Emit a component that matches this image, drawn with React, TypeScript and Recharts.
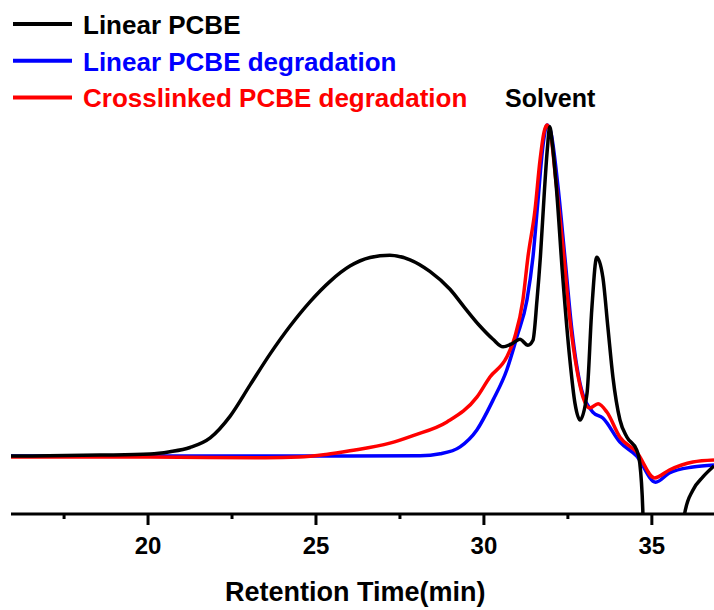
import { LineChart, Line, XAxis, YAxis } from 'recharts';

const FONT = '"Liberation Sans", Arial, Helvetica, sans-serif';

// retention time (min) / signal (a.u., baseline 0, main peak 100)
const linearTime = [
  15.92, 18.57, 20.06, 20.65, 21.25, 21.85, 22.44, 23.04, 23.63, 24.23, 24.82, 25.42, 26.01, 26.61,
  27.2, 27.8, 28.39, 28.99, 29.43, 29.88, 30.27, 30.57, 30.86, 31.07, 31.31, 31.46, 31.58, 31.68,
  31.8, 31.89, 31.96, 32.04, 32.15, 32.34, 32.56, 32.71, 32.86, 33.07, 33.21, 33.36, 33.54, 33.69,
  33.84, 34.05, 34.26, 34.55, 34.64, 34.73, 34.78, 35.3, 35.85, 35.98, 36.22, 36.52, 36.85,
];
const linearSignal = [
  0, 0.3, 0.6, 1.3, 2.6, 5.5, 12.0, 21.5, 30.8, 39.3, 46.6, 52.8, 57.4, 60.0,
  60.7, 59.3, 55.8, 50.4, 44.8, 39.3, 35.3, 33.0, 34.1, 35.3, 33.5, 35.0, 47.1, 60,
  80, 93, 99.5, 94, 82, 55, 29.0, 16.0, 10.9, 19.0, 44.1, 60.1, 54.1, 39.0,
  23.9, 10.9, 5.7, 1.8, -2.1, -16.3, -35, -60, -35, -17.2, -10.3, -6.3, -3.0,
];

const linearDegTime = [
  15.92, 22, 26, 28.1, 28.7, 29.29, 29.79, 30.27, 30.68, 30.98, 31.28, 31.46, 31.61, 31.76, 31.88,
  31.99, 32.2, 32.41, 32.62, 32.86, 33.24, 33.54, 34.05, 34.55, 35.11, 35.52, 36.22, 36.85,
];
const linearDegSignal = [
  0, 0, 0, 0.1, 0.7, 2.8, 7.9, 16.9, 26, 36, 47.1, 60.1, 77.3, 94, 100,
  97.9, 81.9, 60.1, 38, 22, 13.3, 11.5, 4.2, 0, -7.9, -5.1, -3.3, -2.7,
];

const crossDegTime = [
  15.92, 20.06, 23.5, 24.5, 25.3, 26.01, 27.2, 27.89, 28.9, 29.79, 30.18, 30.68, 30.92, 31.16, 31.31,
  31.52, 31.67, 31.79, 31.88, 31.99, 32.14, 32.35, 32.56, 32.77, 32.95, 33.15, 33.4, 33.66, 34.05,
  34.55, 35.08, 35.52, 36.22, 36.85,
];
const crossDegSignal = [
  -0.3, -0.3, -0.5, -0.3, 0.5, 1.6, 3.9, 6.2, 10.3, 17.8, 23.9, 29.9, 36.0, 47.1, 60.1,
  74.3, 89.4, 97.9, 100, 97, 83.4, 63.7, 41.1, 26, 17.8, 14.5, 15.8, 13.3, 5.7,
  1.2, -6.6, -4.2, -1.8, -1.2,
];

const xTicks = [17.5, 20, 22.5, 25, 27.5, 30, 32.5, 35];

const legendItems = [
  { name: 'Linear PCBE', color: '#000000' },
  { name: 'Linear PCBE degradation', color: '#0000ff' },
  { name: 'Crosslinked PCBE degradation', color: '#ff0000' },
];

const toRows = (t: number[], v: number[]) => t.map((x, i) => ({ t: x, v: v[i] }));

const linear = toRows(linearTime, linearSignal);
const linearDeg = toRows(linearDegTime, linearDegSignal);
const crossDeg = toRows(crossDegTime, crossDegSignal);

function Tick(props: any) {
  const { x, y, payload } = props;
  const major = payload.value % 5 === 0;
  return (
    <g>
      <line x1={x} x2={x} y1={y} y2={y + (major ? 11 : 5)} stroke="#000" strokeWidth={3} />
      {major && (
        <text x={x} y={y + 40} textAnchor="middle" fontSize={24} fontWeight="bold" fontFamily={FONT} fill="#000">
          {payload.value}
        </text>
      )}
    </g>
  );
}

export default function App() {
  return (
    <div style={{ position: 'absolute', left: 0, top: 0, width: 714, height: 610, background: '#fff' }}>
      <LineChart width={714} height={610} margin={{ top: 92, right: 0, bottom: 0, left: 11 }}>
        <XAxis
          dataKey="t"
          type="number"
          domain={[15.92, 36.85]}
          allowDataOverflow
          ticks={xTicks}
          tick={<Tick />}
          tickLine={false}
          tickSize={0}
          tickMargin={0}
          height={96}
          axisLine={{ stroke: '#000', strokeWidth: 3 }}
          label={{
            content: () => (
              <text x={225} y={601} fontSize={27} fontWeight="bold" fontFamily={FONT} fill="#000">
                Retention Time(min)
              </text>
            ),
          }}
        />
        <YAxis hide type="number" domain={[-17.5, 110]} allowDataOverflow />
        <Line data={linearDeg} dataKey="v" type="monotone" stroke="#0000ff" strokeWidth={3.5} dot={false} isAnimationActive={false} />
        <Line data={crossDeg} dataKey="v" type="monotone" stroke="#ff0000" strokeWidth={3.5} dot={false} isAnimationActive={false} />
        <Line data={linear} dataKey="v" type="monotone" stroke="#000000" strokeWidth={3.5} dot={false} isAnimationActive={false} />
      </LineChart>
      <svg width={714} height={120} style={{ position: 'absolute', left: 0, top: 0 }}>
        {legendItems.map((item, i) => (
          <g key={item.name}>
            <line x1={13} x2={72} y1={24 + i * 36.7} y2={24 + i * 36.7} stroke={item.color} strokeWidth={4} />
            <text x={83} y={34 + i * 36.7} fontSize={26} fontWeight="bold" fontFamily={FONT} fill={item.color}>
              {item.name}
            </text>
          </g>
        ))}
        <text x={505} y={107} fontSize={25} fontWeight="bold" fontFamily={FONT} fill="#000">
          Solvent
        </text>
      </svg>
    </div>
  );
}
